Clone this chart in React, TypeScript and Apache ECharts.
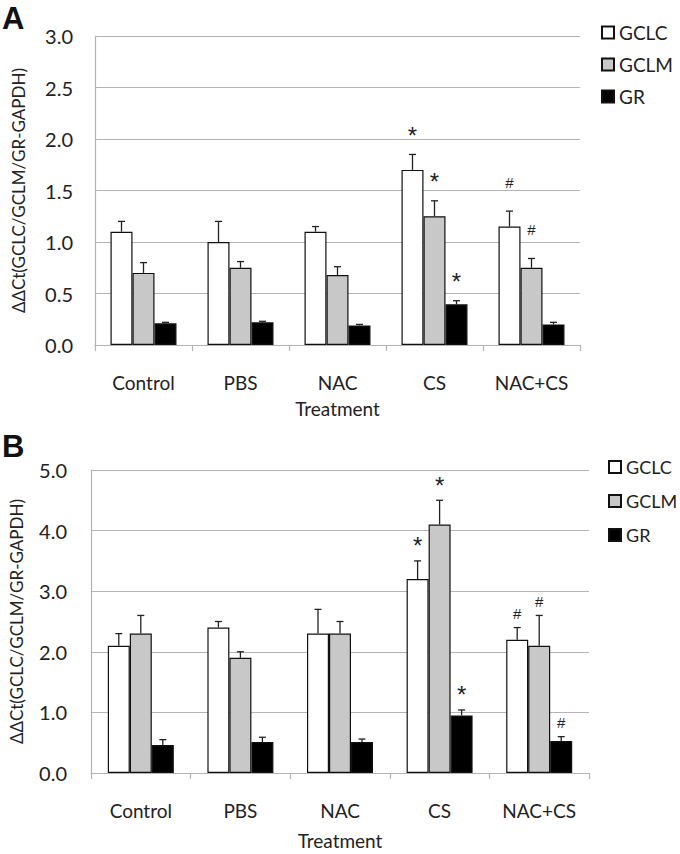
import React, { useEffect, useRef } from "react";
import * as echarts from "echarts";

const categories = ["Control", "PBS", "NAC", "CS", "NAC+CS"];
const seriesNames = ["GCLC", "GCLM", "GR"];

// Panel A
const gclcA = [1.1, 1.0, 1.1, 1.7, 1.15];
const gclcASd = [0.1, 0.2, 0.05, 0.15, 0.15];
const gclmA = [0.7, 0.75, 0.68, 1.25, 0.75];
const gclmASd = [0.1, 0.06, 0.08, 0.15, 0.09];
const grA = [0.21, 0.22, 0.19, 0.395, 0.2];
const grASd = [0.01, 0.01, 0.01, 0.035, 0.02];
const gclcAMark = ["", "", "", "*", "#"];
const gclmAMark = ["", "", "", "*", "#"];
const grAMark = ["", "", "", "*", ""];

// Panel B
const gclcB = [2.1, 2.4, 2.3, 3.2, 2.2];
const gclcBSd = [0.2, 0.1, 0.4, 0.3, 0.2];
const gclmB = [2.3, 1.9, 2.3, 4.1, 2.1];
const gclmBSd = [0.3, 0.1, 0.2, 0.4, 0.5];
const grB = [0.46, 0.51, 0.51, 0.95, 0.53];
const grBSd = [0.09, 0.08, 0.05, 0.09, 0.07];
const gclcBMark = ["", "", "", "*", "#"];
const gclmBMark = ["", "", "", "*", "#"];
const grBMark = ["", "", "", "*", "#"];

const yTicksA = { min: 0, max: 3, interval: 0.5 };
const yTicksB = { min: 0, max: 5, interval: 1 };

const FONT = "Lato";
const colors = ["#ffffff", "#c8c8c8", "#000000"];
const BAR_W = 22;

export default function App() {
  const ref = useRef<HTMLDivElement>(null);
  useEffect(() => {
    document.body.style.margin = "0";
    const chart = echarts.init(ref.current!, null, { renderer: "svg" });

    const panels = [
      {
        vals: [gclcA, gclmA, grA],
        sds: [gclcASd, gclmASd, grASd],
        marks: [gclcAMark, gclmAMark, grAMark],
        offs: { "*": 19, "#": 29 },
      },
      {
        vals: [gclcB, gclmB, grB],
        sds: [gclcBSd, gclmBSd, grBSd],
        marks: [gclcBMark, gclmBMark, grBMark],
        offs: { "*": 15, "#": 14 },
      },
    ];

    const series: any[] = [];
    panels.forEach((p, pi) => {
      p.vals.forEach((v, si) => {
        series.push({
          type: "bar",
          name: seriesNames[si],
          xAxisIndex: pi,
          yAxisIndex: pi,
          data: v,
          barWidth: BAR_W,
          barGap: "0%",
          itemStyle: { color: colors[si], borderColor: "#111", borderWidth: 1.2 },
          z: 2,
        });
      });
      p.vals.forEach((v, si) => {
        const marks = p.marks[si];
        const sd = p.sds[si];
        series.push({
          type: "custom",
          name: "err" + pi + "-" + si,
          xAxisIndex: pi,
          yAxisIndex: pi,
          z: 5,
          data: v.map((val, i) => [i, val + sd[i], val]),
          encode: { x: 0, y: 1 },
          renderItem: (params: any, api: any) => {
            const i = api.value(0);
            const base = api.coord([i, api.value(2)]);
            const top = api.coord([i, api.value(1)]);
            const x = base[0] + (si - 1) * BAR_W;
            const children: any[] = [
              {
                type: "line",
                shape: { x1: x, y1: base[1], x2: x, y2: top[1] },
                style: { stroke: "#222", lineWidth: 1.3 },
              },
              {
                type: "line",
                shape: { x1: x - 3.5, y1: top[1], x2: x + 3.5, y2: top[1] },
                style: { stroke: "#222", lineWidth: 1.3 },
              },
            ];
            const m = marks[params.dataIndex];
            if (m) {
              children.push({
                type: "text",
                x: x,
                y: top[1] - (p.offs as any)[m],
                style: {
                  text: m,
                  fontFamily: "Liberation Sans",
                  fontSize: m === "*" ? 24 : 15,
                  fill: "#222",
                  align: "center",
                  verticalAlign: "middle",
                },
              });
            }
            return { type: "group", children };
          },
        });
      });
    });

    const axisLabelStyle = { fontFamily: FONT, fontSize: 19, color: "#222" };
    const gridLine = { lineStyle: { color: "#b4b4b4", width: 1.2 } };

    chart.setOption({
      animation: false,
      graphic: [
        {
          type: "text",
          left: 2,
          top: 3,
          style: { text: "A", fontFamily: "Liberation Sans", fontWeight: "bold", fontSize: 31, fill: "#111" },
        },
        {
          type: "text",
          left: 2,
          top: 431,
          style: { text: "B", fontFamily: "Liberation Sans", fontWeight: "bold", fontSize: 31, fill: "#111" },
        },
      ],
      legend: [
        {
          data: seriesNames,
          orient: "vertical",
          left: 596,
          top: 18,
          itemWidth: 12,
          itemHeight: 12,
          itemGap: 13,
          icon: "rect",
          textStyle: { fontFamily: FONT, fontSize: 19, color: "#222" },
        },
        {
          data: seriesNames,
          orient: "vertical",
          left: 603,
          top: 453,
          itemWidth: 12,
          itemHeight: 12,
          itemGap: 16,
          icon: "rect",
          textStyle: { fontFamily: FONT, fontSize: 18, color: "#222" },
        },
      ],
      grid: [
        { left: 95, right: 100, top: 36, height: 309 },
        { left: 91, right: 91, top: 470, height: 303 },
      ],
      xAxis: [0, 1].map((gi) => ({
        type: "category",
        gridIndex: gi,
        data: categories,
        name: "Treatment",
        nameLocation: "middle",
        nameGap: gi === 0 ? 54 : 58,
        nameTextStyle: { fontFamily: FONT, fontSize: 19, color: "#222" },
        axisLine: { lineStyle: { color: "#b4b4b4", width: 1.2 } },
        axisTick: { show: true, length: 6, lineStyle: { color: "#b4b4b4", width: 1.2 } },
        axisLabel: { ...axisLabelStyle, interval: 0, margin: 28 },
      })),
      yAxis: [yTicksA, yTicksB].map((t, gi) => ({
        type: "value",
        gridIndex: gi,
        min: t.min,
        max: t.max,
        interval: t.interval,
        name: "ΔΔCt(GCLC/GCLM/GR-GAPDH)",
        nameLocation: "middle",
        nameGap: gi === 0 ? 68 : 66,
        nameTextStyle: { fontFamily: FONT, fontSize: 17, color: "#222" },
        axisLine: { show: true, lineStyle: { color: "#b4b4b4", width: 1.2 } },
        axisTick: { show: false },
        splitLine: gridLine,
        axisLabel: {
          ...axisLabelStyle,
          fontSize: 20,
          margin: gi === 0 ? 22 : 24,
          formatter: (v: number) => v.toFixed(1),
        },
      })),
      series,
    });
    return () => chart.dispose();
  }, []);
  return <div ref={ref} style={{ width: 680, height: 854 }} />;
}
